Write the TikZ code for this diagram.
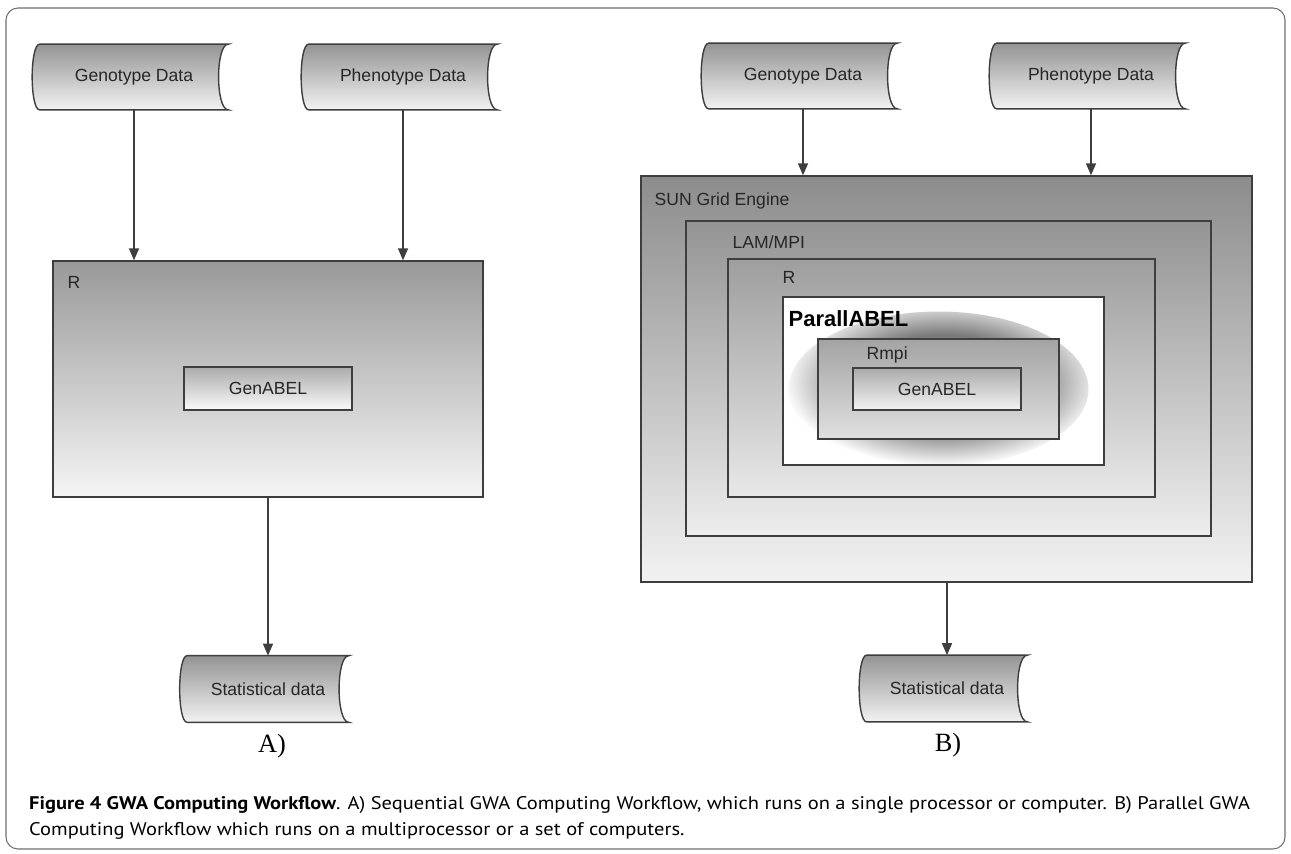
\documentclass[tikz,border=0pt]{standalone}
\usepackage{fontspec}
\setmainfont{Liberation Sans}
\newfontfamily\capfont[FakeStretch=1.12]{PT Sans}
\newfontfamily\subfont{Liberation Serif}
\usepackage{tikz}
\usetikzlibrary{arrows.meta,positioning,backgrounds}
\definecolor{edge}{RGB}{62,62,62}
\definecolor{txt}{RGB}{38,38,38}
\definecolor{framegray}{RGB}{110,110,110}
\pgfdeclareradialshading{halo}{\pgfpoint{0bp}{0bp}}{color(0bp)=(black!52); color(14bp)=(black!52); color(25bp)=(white); color(50bp)=(white)}
% stored-data outline round a named node
\newcommand{\storeshape}[1]{%
  \shade[draw=edge, line width=0.8pt, top color=black!42, bottom color=black!5]
    (#1.north west) -- (#1.north east)
    .. controls ([xshift=-2.6mm]#1.north east) and ([xshift=-2.6mm]#1.south east) .. (#1.south east)
    -- (#1.south west)
    .. controls ([xshift=-2mm]#1.south west) and ([xshift=-2mm]#1.north west) .. (#1.north west) -- cycle;}

\begin{document}
\begin{tikzpicture}[x=0.02cm, y=-0.02cm,
  font=\fontsize{10}{12}\selectfont, text=txt,
  box/.style={draw=edge, line width=0.8pt, inner sep=0pt},
  shadebox/.style 2 args={box, top color=black!#1, bottom color=black!#2},
  store/.style={minimum width=37.6mm, minimum height=13mm, inner sep=0pt},
  tag/.style={anchor=north west, inner sep=0pt, text=txt},
  ar/.style={-{Triangle[length=2.4mm, width=2mm]}, line width=0.8pt, draw=edge}]
\useasboundingbox (0,0) rectangle (1291,854);
\draw[draw=framegray, line width=0.6pt, rounded corners=2.4mm] (6,8) rectangle (1285,849);

% A) sequential
\node[store] (genoA)  at (134,77) {Genotype Data};
\node[store] (phenoA) at (403,77) {Phenotype Data};
\node[shadebox={40}{4}, minimum width=86mm, minimum height=47.2mm,
      label={[tag, xshift=3mm, yshift=-3.2mm]north west:R}] (rA) at (268,379) {};
\node[shadebox={33}{2}, minimum width=33.6mm, minimum height=8.6mm] (gaA) at (268,388.5) {GenABEL};
\node[store, minimum width=32.2mm, minimum height=13.2mm] (statA) at (268,689) {Statistical data};
\node[anchor=base, font=\subfont\fontsize{15}{18}\selectfont, text=black] (subA) at (272,752) {A)};

% B) parallel
\node[store] (genoB)  at (803,76) {Genotype Data};
\node[store] (phenoB) at (1091,76) {Phenotype Data};
\node[shadebox={45}{5}, minimum width=122.2mm, minimum height=81.2mm,
      label={[tag, xshift=2.8mm, yshift=-3.4mm]north west:SUN Grid Engine}] (sge) at (946.5,379) {};
\node[shadebox={42}{7}, minimum width=105mm, minimum height=63mm,
      label={[tag, xshift=9.4mm, yshift=-3mm]north west:LAM/MPI}] (lam) at (948.5,378.5) {};
\node[shadebox={38}{9}, minimum width=85.4mm, minimum height=47.6mm,
      label={[tag, xshift=11mm, yshift=-2.6mm]north west:R}] (rB) at (941.5,378) {};
\node[box, fill=white, minimum width=64.2mm, minimum height=33.6mm,
      path picture={\shade[shading=halo] ([xshift=-1mm, yshift=-1.6mm]path picture bounding box.center)
        ellipse [x radius=30mm, y radius=15.5mm];},
      label={[tag, xshift=1.2mm, yshift=-2.8mm, font=\bfseries\fontsize{12.5}{14}\selectfont, text=black]north west:ParallABEL}] (par) at (943.5,381) {};
\node[shadebox={36}{12}, minimum width=48.2mm, minimum height=20mm,
      label={[tag, xshift=9.8mm, yshift=-1.6mm]north west:Rmpi}] (rmpi) at (938.5,389) {};
\node[shadebox={33}{5}, minimum width=33.6mm, minimum height=8.4mm] (gaB) at (937,389) {GenABEL};
\node[store, minimum width=32mm, minimum height=13.2mm] (statB) at (947,688.5) {Statistical data};
\node[anchor=base, font=\subfont\fontsize{15}{18}\selectfont, text=black] (subB) at (948,751) {B)};

\begin{pgfonlayer}{background}
\storeshape{genoA} \storeshape{phenoA} \storeshape{statA}
\storeshape{genoB} \storeshape{phenoB} \storeshape{statB}
\end{pgfonlayer}

\draw[ar] (genoA) -- (genoA |- rA.north);
\draw[ar] (phenoA) -- (phenoA |- rA.north);
\draw[ar] (rA) -- (statA);
\draw[ar] (genoB) -- (genoB |- sge.north);
\draw[ar] (phenoB) -- (phenoB |- sge.north);
\draw[ar] (sge.south -| statB) -- (statB);

% caption
\node[anchor=base west, font=\capfont\fontsize{10.4}{12}\selectfont, text=black] (capA) at (23,809)
  {\textbf{Figure 4 GWA Computing Workflow}. A) Sequential GWA Computing Workflow, which runs on a single processor or computer. B) Parallel GWA};
\node[anchor=base west, font=\capfont\fontsize{10.4}{12}\selectfont, text=black] (capB) at (23,835)
  {Computing Workflow which runs on a multiprocessor or a set of computers.};
\end{tikzpicture}
\end{document}
